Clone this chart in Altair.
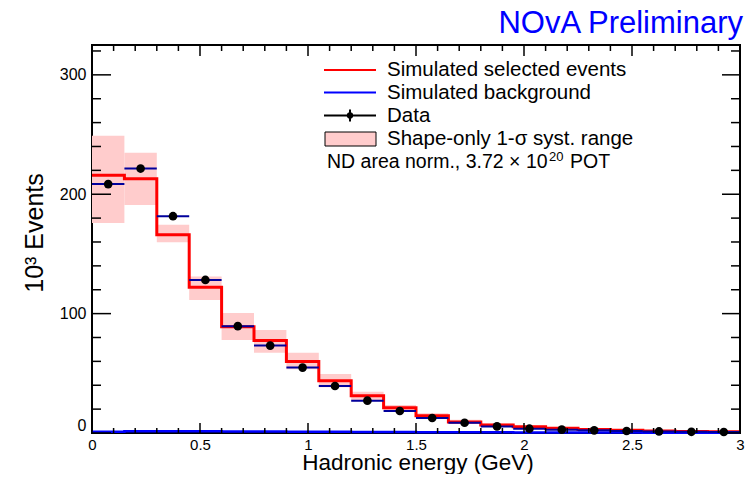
import altair as alt
import pandas as pd

FONT = "Liberation Sans"

# ---- data ----
bin_lo = [0.0, 0.15, 0.3, 0.45, 0.6, 0.75, 0.9, 1.05, 1.2, 1.35,
          1.5, 1.65, 1.8, 1.95, 2.1, 2.25, 2.4, 2.55, 2.7, 2.85]
bin_hi = [0.15, 0.3, 0.45, 0.6, 0.75, 0.9, 1.05, 1.2, 1.35, 1.5,
          1.65, 1.8, 1.95, 2.1, 2.25, 2.4, 2.55, 2.7, 2.85, 3.0]
bin_mid = [0.075, 0.225, 0.375, 0.525, 0.675, 0.825, 0.975, 1.125, 1.275, 1.425,
           1.575, 1.725, 1.875, 2.025, 2.175, 2.325, 2.475, 2.625, 2.775, 2.925]

sim_selected = [216, 213, 166, 122, 89, 77.4, 59.8, 43.8, 31.3, 21.2,
                14.5, 9.3, 6.8, 5.2, 3.9, 3.0, 2.4, 1.7, 1.3, 1.0]
sim_background = [1.0, 1.4, 1.5, 1.4, 1.3, 1.2, 1.1, 1.0, 0.9, 0.8,
                  0.7, 0.6, 0.6, 0.5, 0.5, 0.4, 0.4, 0.3, 0.3, 0.3]
data_vals = [208.5, 221.5, 181.6, 128.2, 89.5, 73.2, 54.8, 39.4, 27.1, 18.4,
             12.6, 8.6, 5.5, 3.6, 2.8, 2.2, 1.7, 1.3, 1.0, 0.8]
syst_hi = [249, 234.7, 174.4, 131, 100.6, 86.3, 67.3, 49.4, 34.6, 23.5,
           16.5, 11.0, 7.9, 6.0, 4.5, 3.4, 2.7, 1.9, 1.5, 1.1]
syst_lo = [176, 191, 159.8, 111.5, 78, 67.3, 53.5, 38.3, 26.5, 18.5,
           12.5, 7.8, 5.6, 4.3, 3.3, 2.6, 2.1, 1.5, 1.1, 0.9]

x_major = [0, 0.5, 1.0, 1.5, 2.0, 2.5, 3.0]
x_minor = [0.1, 0.2, 0.3, 0.4, 0.6, 0.7, 0.8, 0.9, 1.1, 1.2, 1.3, 1.4,
           1.6, 1.7, 1.8, 1.9, 2.1, 2.2, 2.3, 2.4, 2.6, 2.7, 2.8, 2.9]
y_major = [0, 100, 200, 300]
y_minor = [20, 40, 60, 80, 120, 140, 160, 180, 220, 240, 260, 280, 320]

legend_labels = ["Simulated selected events", "Simulated background", "Data",
                 "Shape-only 1-\u03c3 syst. range"]
norm_main = "ND area norm., 3.72 \u00d7 10"
norm_exp = "20"
norm_tail = "POT"
title_text = "NOvA Preliminary"
x_title = "Hadronic energy (GeV)"
y_title = "10\u00b3 Events"

# ---- tables ----
bins = pd.DataFrame({"lo": bin_lo, "hi": bin_hi, "mid": bin_mid,
                     "sel": sim_selected, "bkg": sim_background,
                     "data": data_vals, "slo": syst_lo, "shi": syst_hi})
steps = pd.DataFrame({"x": bin_lo + [bin_hi[-1]],
                      "sel": sim_selected + [sim_selected[-1]],
                      "bkg": sim_background + [sim_background[-1]]})
xmaj = pd.DataFrame({"v": x_major})
xmin = pd.DataFrame({"v": x_minor})
ymaj = pd.DataFrame({"v": y_major})
ymin = pd.DataFrame({"v": y_minor})
one = pd.DataFrame({"k": [0]})

W, H = 648, 388
xs = alt.Scale(domain=[0, 3], nice=False, zero=False)
ys = alt.Scale(domain=[0, 325], nice=False, zero=False)
XAX = alt.Axis(values=x_major, format=".1~f", ticks=False, domain=False, grid=False,
               labelFont=FONT, labelFontSize=15, labelColor="black", labelPadding=4,
               labelFlush=False, title=None)
YAX = alt.Axis(values=y_major, format="d", ticks=False, domain=False, grid=False,
               labelFont=FONT, labelFontSize=16, labelColor="black", labelPadding=6,
               labelFlush=True, title=None)


def X(f):
    return alt.X(f, scale=xs, axis=XAX)


def Y(f):
    return alt.Y(f, scale=ys, axis=YAX)


band = alt.Chart(bins).mark_rect(color="#ffcccc").encode(
    x=X("lo:Q"), x2="hi:Q", y=Y("slo:Q"), y2="shi:Q")
bkg_line = alt.Chart(steps).mark_line(interpolate="step-after", color="#0000ff",
                                      strokeWidth=2.5).encode(x=X("x:Q"), y=Y("bkg:Q"))
sel_line = alt.Chart(steps).mark_line(interpolate="step-after", color="#ff0000",
                                      strokeWidth=3).encode(x=X("x:Q"), y=Y("sel:Q"))
xerr = alt.Chart(bins).mark_rule(color="#00009c", strokeWidth=2).encode(
    x=X("lo:Q"), x2="hi:Q", y=Y("data:Q"))
pts = alt.Chart(bins).mark_circle(size=75, color="black", opacity=1).encode(
    x=X("mid:Q"), y=Y("data:Q"))

tick_layers = []
for d, ln_bot, ln_top in [(xmaj, 10, 11), (xmin, 5, 6)]:
    tick_layers.append(alt.Chart(d).mark_rule(color="black", strokeWidth=1.5).encode(
        x=X("v:Q"), y=alt.value(H), y2=alt.value(H - ln_bot)))
    tick_layers.append(alt.Chart(d).mark_rule(color="black", strokeWidth=1.5).encode(
        x=X("v:Q"), y=alt.value(0), y2=alt.value(ln_top)))
for d, ln_l, ln_r in [(ymaj, 19, 18), (ymin, 9, 9)]:
    tick_layers.append(alt.Chart(d).mark_rule(color="black", strokeWidth=1.5).encode(
        y=Y("v:Q"), x=alt.value(0), x2=alt.value(ln_l)))
    tick_layers.append(alt.Chart(d).mark_rule(color="black", strokeWidth=1.5).encode(
        y=Y("v:Q"), x=alt.value(W), x2=alt.value(W - ln_r)))

# ---- legend (drawn by hand, ROOT style) ----
LX0, LX1, LTX = 232, 284, 295
rows = [25, 47.5, 70.5, 94]
leg = [
    alt.Chart(one).mark_rule(color="#ff0000", strokeWidth=2).encode(
        x=alt.value(LX0), x2=alt.value(LX1), y=alt.value(rows[0])),
    alt.Chart(one).mark_rule(color="#0000ff", strokeWidth=2).encode(
        x=alt.value(LX0), x2=alt.value(LX1), y=alt.value(rows[1])),
    alt.Chart(one).mark_rule(color="black", strokeWidth=2).encode(
        x=alt.value(LX0), x2=alt.value(LX1), y=alt.value(rows[2])),
    alt.Chart(one).mark_rule(color="black", strokeWidth=2).encode(
        x=alt.value((LX0 + LX1) / 2), y=alt.value(rows[2] - 6), y2=alt.value(rows[2] + 6)),
    alt.Chart(one).mark_circle(size=40, color="black", opacity=1).encode(
        x=alt.value((LX0 + LX1) / 2), y=alt.value(rows[2])),
    alt.Chart(one).mark_rect(fill="#ffcccc", stroke="black", strokeWidth=1).encode(
        x=alt.value(LX0 + 1), x2=alt.value(LX1), y=alt.value(rows[3] - 7),
        y2=alt.value(rows[3] + 7)),
]
for lab, ry in zip(legend_labels, rows):
    leg.append(alt.Chart(one).mark_text(text=lab, font=FONT, fontSize=20.5, align="left",
                                        baseline="middle", color="black").encode(
        x=alt.value(LTX), y=alt.value(ry)))
NX, NY = 235, 123
leg += [
    alt.Chart(one).mark_text(text=norm_main, font=FONT, fontSize=19.5, align="left",
                             baseline="alphabetic", color="black").encode(
        x=alt.value(NX), y=alt.value(NY)),
    alt.Chart(one).mark_text(text=norm_exp, font=FONT, fontSize=13, align="left",
                             baseline="alphabetic", color="black").encode(
        x=alt.value(NX + 222), y=alt.value(NY - 7)),
    alt.Chart(one).mark_text(text=norm_tail, font=FONT, fontSize=19.5, align="left",
                             baseline="alphabetic", color="black").encode(
        x=alt.value(NX + 243), y=alt.value(NY)),
]

texts = [
    alt.Chart(one).mark_text(text=title_text, font=FONT, fontSize=31, align="right",
                             baseline="alphabetic", color="#0000ff").encode(
        x=alt.value(W + 3), y=alt.value(-12)),
    alt.Chart(one).mark_text(text=x_title, font=FONT, fontSize=22.5, align="center",
                             baseline="alphabetic", color="black").encode(
        x=alt.value(326), y=alt.value(425)),
    alt.Chart(one).mark_text(text=y_title, font=FONT, fontSize=25, align="center",
                             baseline="alphabetic", angle=270, color="black").encode(
        x=alt.value(-49), y=alt.value(188)),
]

chart = alt.layer(band, sel_line, bkg_line, xerr, pts, *tick_layers, *leg, *texts).properties(
    width=W, height=H,
    autosize=alt.AutoSizeParams(type="none"),
    padding={"left": 84, "top": 37, "right": 6, "bottom": 41},
).configure_view(stroke="black", strokeWidth=2)

chart.save("out.html", embed_options={"renderer": "svg", "actions": False})
